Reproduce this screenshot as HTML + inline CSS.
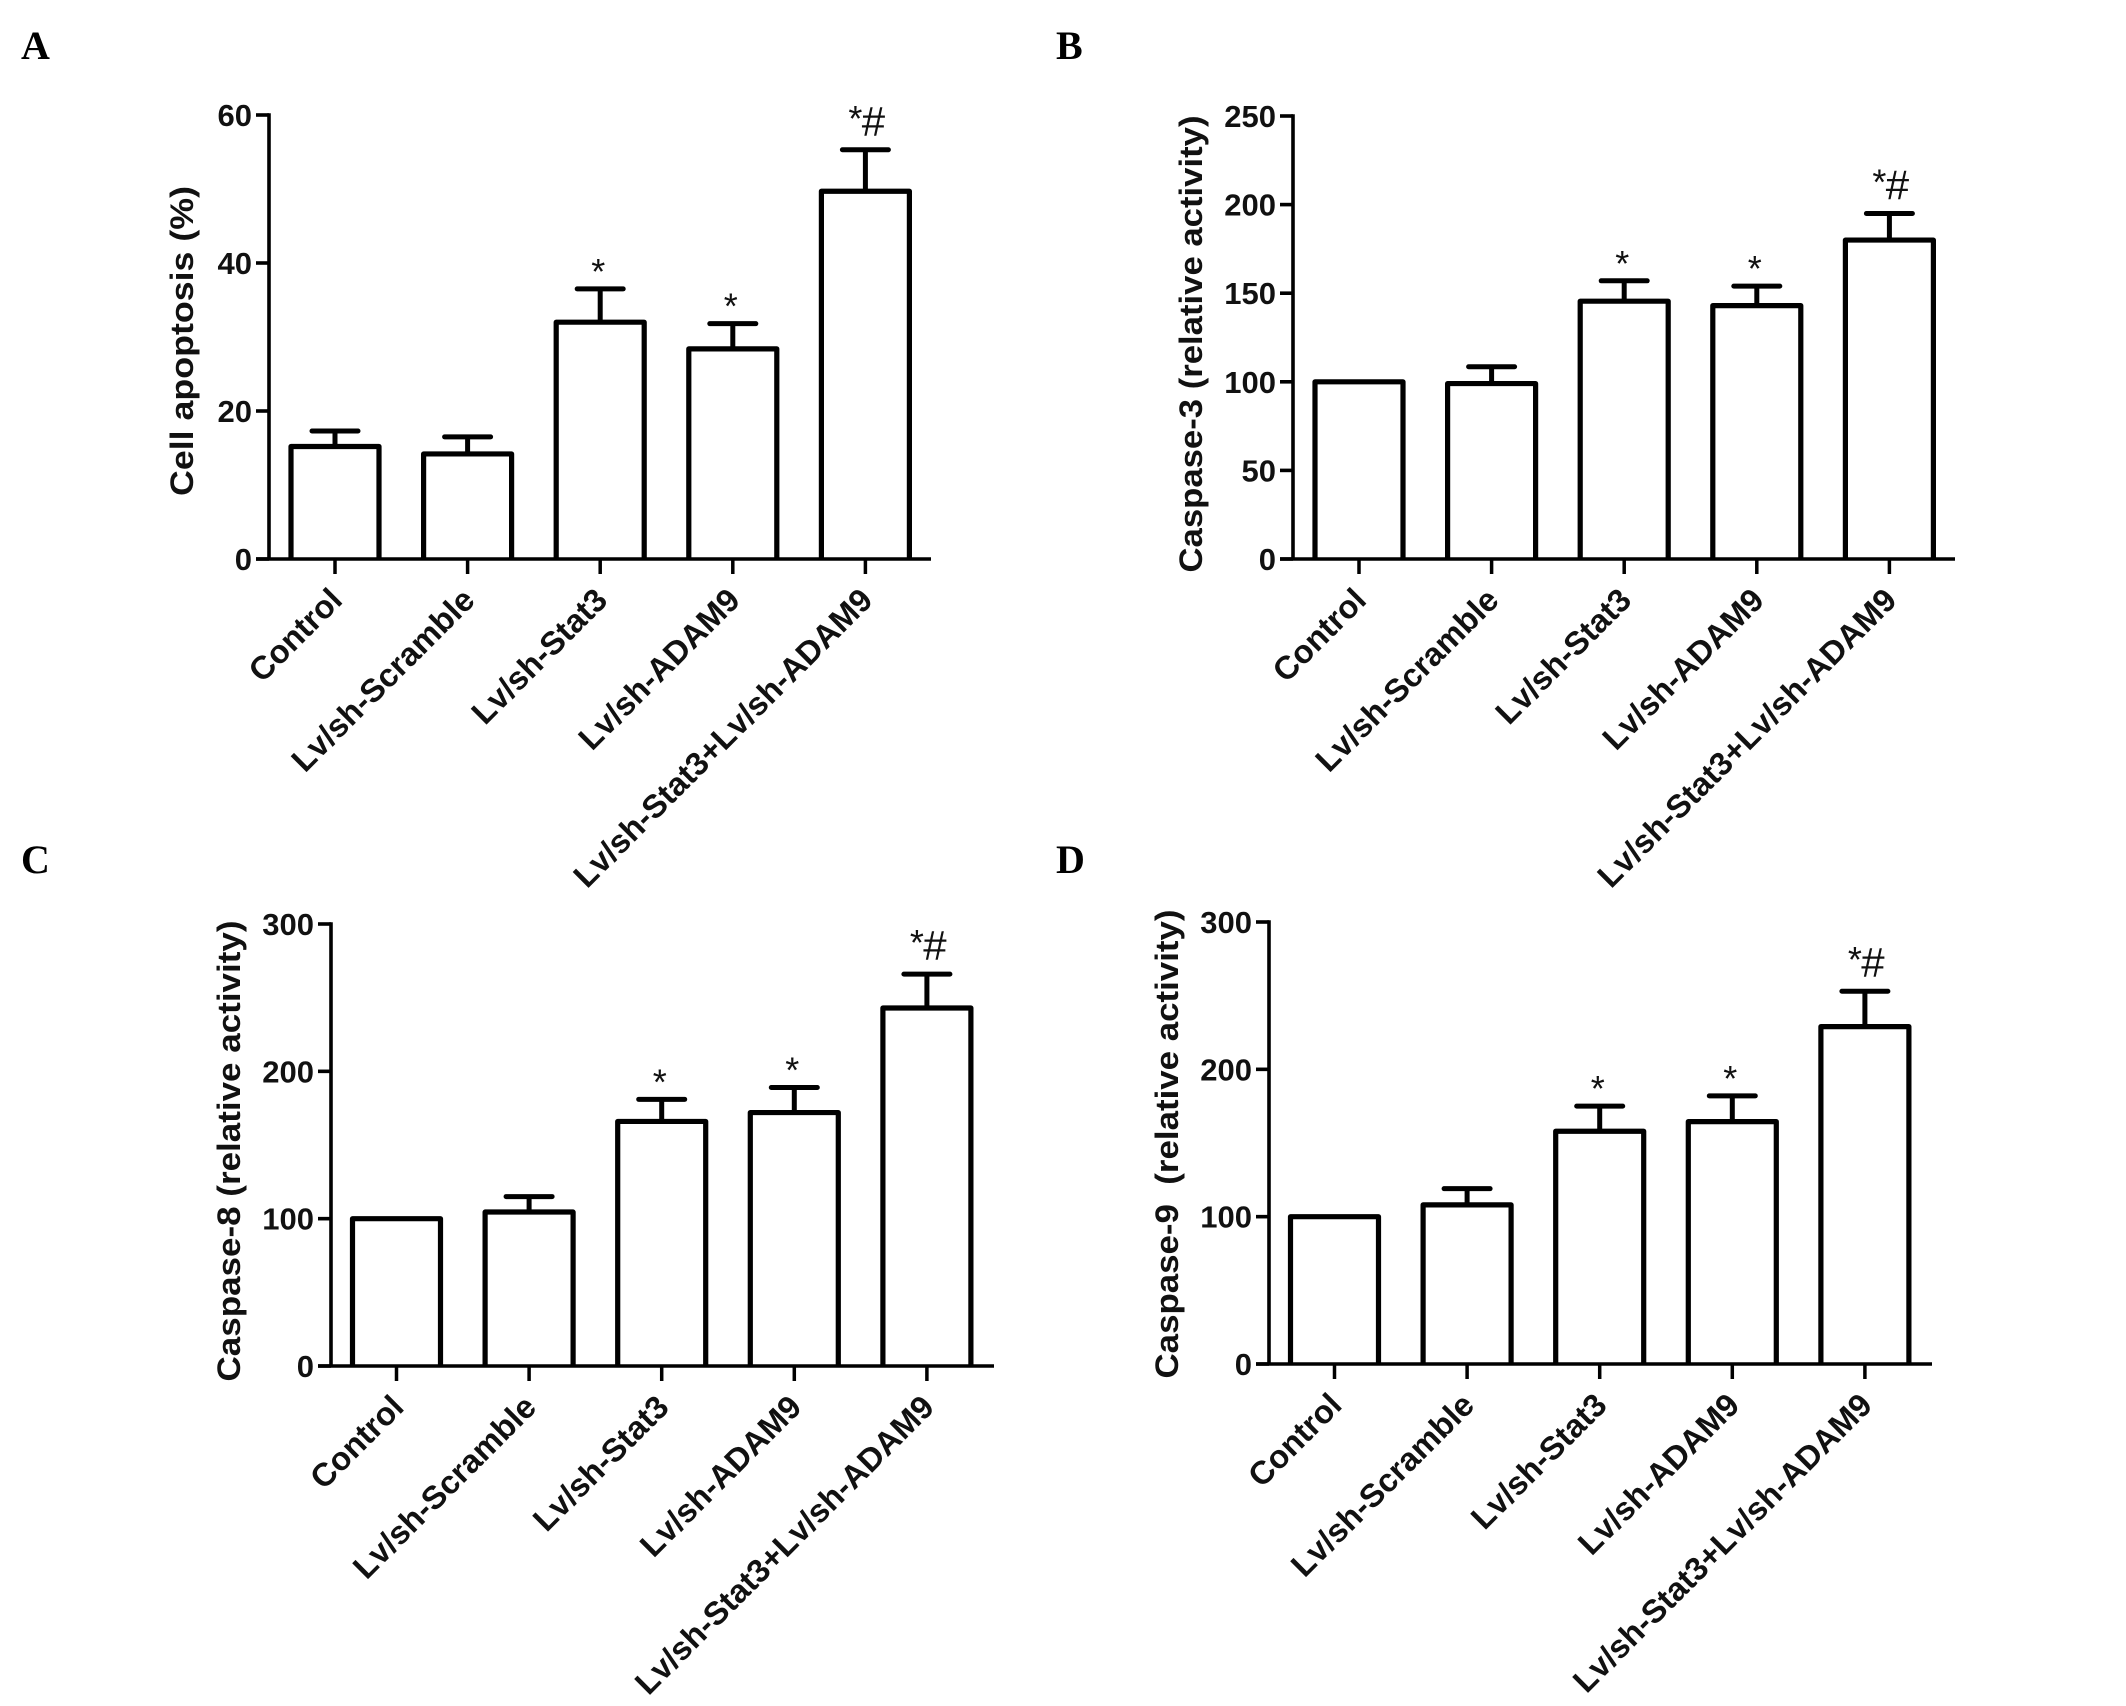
<!DOCTYPE html>
<html lang="en">
<head>
<meta charset="utf-8">
<title>Apoptosis and caspase activity</title>
<style>
html,body{margin:0;padding:0;background:#fff;}
svg{display:block;}
.panel-letter{font-family:"Liberation Serif",serif;font-weight:bold;font-size:40px;fill:#000;}
.tick-label{font-family:"Liberation Sans",sans-serif;font-weight:bold;font-size:31px;fill:#111;}
.axis-title{font-family:"Liberation Sans",sans-serif;font-weight:bold;font-size:32px;fill:#111;white-space:pre;}
.cat-label{font-family:"Liberation Sans",sans-serif;font-weight:bold;font-size:32.6px;fill:#111;}
.sig{font-family:"Liberation Sans",sans-serif;font-size:36px;fill:#111;}
</style>
</head>
<body>
<svg id="figure" xmlns="http://www.w3.org/2000/svg" width="2126" height="1706" viewBox="0 0 2126 1706">
  <rect width="2126" height="1706" fill="#fff"/>
  <text class="panel-letter" x="21" y="59">A</text>
  <text class="panel-letter" x="1056" y="59">B</text>
  <text class="panel-letter" x="21" y="873">C</text>
  <text class="panel-letter" x="1056" y="873">D</text>
</svg>
<script>
const categories = ['Control', 'Lv/sh-Scramble', 'Lv/sh-Stat3', 'Lv/sh-ADAM9', 'Lv/sh-Stat3+Lv/sh-ADAM9'];
const significance = ['', '', '*', '*', '*#'];

const apoptosisMeans = [15.2, 14.2, 32, 28.4, 49.7];
const apoptosisErrorTops = [17.3, 16.5, 36.5, 31.8, 55.3];
const apoptosisTicks = [0, 20, 40, 60];

const caspase3Means = [100, 99, 145.5, 143, 180];
const caspase3ErrorTops = [100, 108.5, 157, 154, 195];
const caspase3Ticks = [0, 50, 100, 150, 200, 250];

const caspase8Means = [100, 104.5, 166, 172, 243];
const caspase8ErrorTops = [100, 115, 181, 189, 266];
const caspase8Ticks = [0, 100, 200, 300];

const caspase9Means = [100, 108, 158, 164.5, 229];
const caspase9ErrorTops = [100, 119, 175, 182, 253];
const caspase9Ticks = [0, 100, 200, 300];

const svg = document.getElementById('figure');
const NS = 'http://www.w3.org/2000/svg';

function make(tag, parent, attrs, text) {
  const el = document.createElementNS(NS, tag);
  for (const k in attrs) el.setAttribute(k, attrs[k]);
  if (text !== undefined) el.textContent = text;
  parent.appendChild(el);
  return el;
}

function drawPanel(id, title, means, tops, ticks, box) {
  const g = make('g', svg, {});
  
  
  const yMax = ticks[ticks.length - 1];
  const yScale = v => box.y0 + (box.yTop - box.y0) * v / yMax;
  const xScale = i => box.x1 + i * box.step;

  means.forEach((m, i) => {
    const cx = xScale(i);
    const yBar = yScale(m);
    const yErr = yScale(tops[i]);
    if (tops[i] > m) {
      const stem = make('path', g, {d: 'M' + cx + ' ' + yBar + 'V' + yErr, stroke: '#000', 'stroke-width': 5, fill: 'none'});
      
      
      const cap = make('path', g, {d: 'M' + (cx - 23) + ' ' + yErr + 'H' + (cx + 23), stroke: '#000', 'stroke-width': 5, 'stroke-linecap': 'round', fill: 'none'});
      
      
    }
    const bar = make('path', g, {d: 'M' + (cx - 44) + ' ' + box.y0 + 'V' + yBar + 'H' + (cx + 44) + 'V' + box.y0, stroke: '#000', 'stroke-width': 5.2, fill: '#fff', 'stroke-linejoin': 'round'});
    
    
    const mark = significance[i];
    if (mark === '*') {
      const star = make('text', g, {class: 'sig', x: cx - 2, y: yErr - 5, 'text-anchor': 'middle'}, '*');
      
      
    } else if (mark === '*#') {
      const star2 = make('text', g, {class: 'sig', x: cx - 10, y: yErr - 19, 'text-anchor': 'middle'}, '*');
      
      
      const hash = make('text', g, {class: 'sig', x: cx + 8, y: yErr - 14, 'text-anchor': 'middle', style: 'font-size:42px'}, '#');
      
      
    }
    const tick = make('path', g, {d: 'M' + cx + ' ' + box.y0 + 'V' + (box.y0 + 15), stroke: '#000', 'stroke-width': 3.5});
    
    
    const ex = cx + 9;
    const ey = box.y0 + 43;
    const lab = make('text', g, {class: 'cat-label', x: ex, y: ey, 'text-anchor': 'end', transform: 'rotate(-45 ' + ex + ' ' + ey + ')'}, categories[i]);
    
    
  });

  const yAxis = make('path', g, {d: 'M' + box.x0 + ' ' + box.y0 + 'V' + (yScale(yMax) - 1.7), stroke: '#000', 'stroke-width': 3.6, fill: 'none'});
  
  
  const xAxis = make('path', g, {d: 'M' + (box.x0 - 13) + ' ' + box.y0 + 'H' + box.xEnd, stroke: '#000', 'stroke-width': 3.6, fill: 'none'});
  
  

  ticks.forEach(t => {
    const y = yScale(t);
    const tk = make('path', g, {d: 'M' + (box.x0 - 13) + ' ' + y + 'H' + box.x0, stroke: '#000', 'stroke-width': 3.6});
    
    
    const tl = make('text', g, {class: 'tick-label', x: box.x0 - 17, y: y + 11, 'text-anchor': 'end'}, String(t));
    
    
  });

  const titleEl = make('text', g, {
    class: 'axis-title', x: box.titleX, y: box.titleY, 'text-anchor': 'middle',
    transform: 'rotate(-90 ' + box.titleX + ' ' + box.titleY + ')',
    textLength: box.titleLen, lengthAdjust: 'spacingAndGlyphs'
  }, title);
  
  
  g.setAttribute('id', id);
}

drawPanel('panel-a', 'Cell apoptosis (%)', apoptosisMeans, apoptosisErrorTops, apoptosisTicks,
  {x0: 269, y0: 559, yTop: 115, x1: 335, step: 132.6, xEnd: 931, titleX: 193, titleY: 341, titleLen: 310});
drawPanel('panel-b', 'Caspase-3 (relative activity)', caspase3Means, caspase3ErrorTops, caspase3Ticks,
  {x0: 1293, y0: 559, yTop: 116, x1: 1359, step: 132.6, xEnd: 1955, titleX: 1202, titleY: 344, titleLen: 457});
drawPanel('panel-c', 'Caspase-8 (relative activity)', caspase8Means, caspase8ErrorTops, caspase8Ticks,
  {x0: 331, y0: 1366, yTop: 924, x1: 396.5, step: 132.6, xEnd: 994, titleX: 240, titleY: 1151, titleLen: 461});
drawPanel('panel-d', 'Caspase-9  (relative activity)', caspase9Means, caspase9ErrorTops, caspase9Ticks,
  {x0: 1269, y0: 1364, yTop: 922, x1: 1334.5, step: 132.6, xEnd: 1932, titleX: 1178, titleY: 1144, titleLen: 469});
</script>
</body>
</html>
